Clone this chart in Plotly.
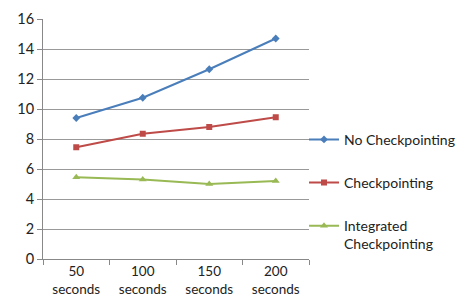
import plotly.graph_objects as go

categories = ["50<br>seconds", "100<br>seconds", "150<br>seconds", "200<br>seconds"]
no_ckpt = [9.4, 10.75, 12.65, 14.7]
ckpt = [7.45, 8.35, 8.8, 9.45]
integrated = [5.45, 5.3, 5.0, 5.2]
y_ticks = [0, 2, 4, 6, 8, 10, 12, 14, 16]

fig = go.Figure()
fig.add_trace(go.Scatter(x=categories, y=no_ckpt, name="No Checkpointing", mode="lines+markers",
                         line=dict(color="#4A7EBB", width=2), marker=dict(symbol="diamond", size=6),
                         legendgroup="a"))
fig.add_trace(go.Scatter(x=categories, y=ckpt, name="Checkpointing", mode="lines+markers",
                         line=dict(color="#BE4B48", width=2), marker=dict(symbol="square", size=6),
                         legendgroup="b"))
fig.add_trace(go.Scatter(x=categories, y=integrated, name="Integrated<br>Checkpointing", mode="lines+markers",
                         line=dict(color="#98B954", width=2), marker=dict(symbol="triangle-up", size=7),
                         legendgroup="c"))

fig.update_layout(
    width=464, height=301,
    margin=dict(l=35, r=163, t=11, b=50, autoexpand=False),
    paper_bgcolor="white", plot_bgcolor="white",
    font=dict(family="Lato, Open Sans, sans-serif", size=13, color="#222"),
    showlegend=True,
    legend=dict(x=-0.015, xanchor="left", y=0.28, yanchor="middle", tracegroupgap=22,
                valign="top", font=dict(size=14, color="#222"), itemwidth=30,
                borderwidth=0, bgcolor="rgba(0,0,0,0)", xref="container" if False else "paper"),
    xaxis=dict(showgrid=False, showline=True, linecolor="#888", linewidth=1,
               ticks="outside", tickcolor="#888", ticklen=5, tickson="boundaries",
               range=[-0.5, 3.5], tickfont=dict(size=13.5)),
    yaxis=dict(range=[0, 16], tickvals=y_ticks, showgrid=True, gridcolor="#999", gridwidth=1,
               showline=True, linecolor="#888", ticks="outside", tickcolor="#888", ticklen=5,
               zeroline=False, tickfont=dict(size=14.5)),
)
fig.update_layout(legend=dict(x=(301 - 5 - 35) / 266))
fig.write_html("out.html")
